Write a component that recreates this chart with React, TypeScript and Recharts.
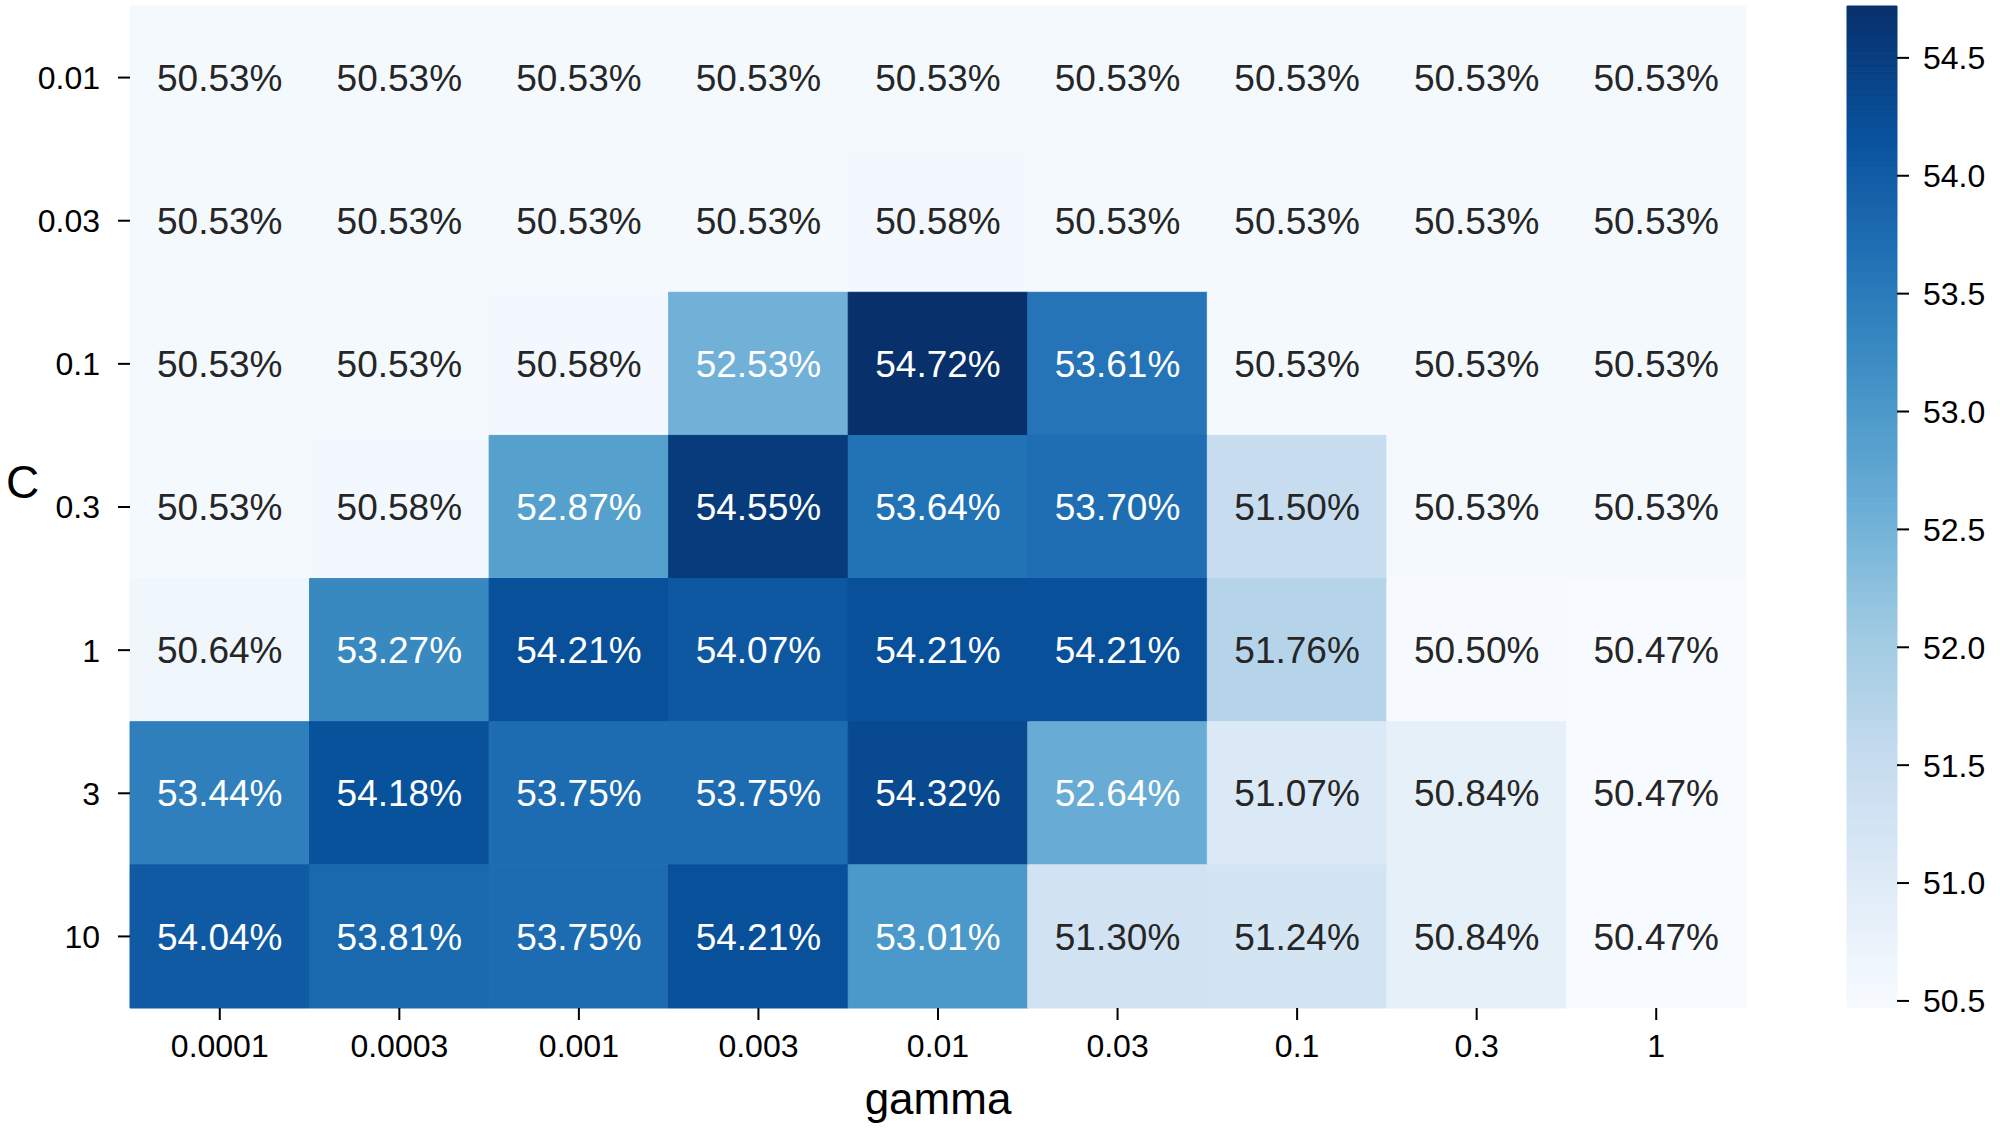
import React from 'react';
import { ComposedChart, XAxis, YAxis, ReferenceArea } from 'recharts';

const gammaLabels = ['0.0001', '0.0003', '0.001', '0.003', '0.01', '0.03', '0.1', '0.3', '1'];
const cLabels = ['0.01', '0.03', '0.1', '0.3', '1', '3', '10'];

const rowC001 = [50.53, 50.53, 50.53, 50.53, 50.53, 50.53, 50.53, 50.53, 50.53];
const rowC003 = [50.53, 50.53, 50.53, 50.53, 50.58, 50.53, 50.53, 50.53, 50.53];
const rowC01 = [50.53, 50.53, 50.58, 52.53, 54.72, 53.61, 50.53, 50.53, 50.53];
const rowC03 = [50.53, 50.58, 52.87, 54.55, 53.64, 53.7, 51.5, 50.53, 50.53];
const rowC1 = [50.64, 53.27, 54.21, 54.07, 54.21, 54.21, 51.76, 50.5, 50.47];
const rowC3 = [53.44, 54.18, 53.75, 53.75, 54.32, 52.64, 51.07, 50.84, 50.47];
const rowC10 = [54.04, 53.81, 53.75, 54.21, 53.01, 51.3, 51.24, 50.84, 50.47];
const rows = [rowC001, rowC003, rowC01, rowC03, rowC1, rowC3, rowC10];

const colorbarTicks = [50.5, 51.0, 51.5, 52.0, 52.5, 53.0, 53.5, 54.0, 54.5];

const BLUES = ['#f7fbff', '#deebf7', '#c6dbef', '#9ecae1', '#6baed6', '#4292c6', '#2171b5', '#08519c', '#08306b'];

const allVals = rows.flat();
const vmin = Math.min(...allVals);
const vmax = Math.max(...allVals);

const hexToRgb = (h: string) => [parseInt(h.slice(1, 3), 16), parseInt(h.slice(3, 5), 16), parseInt(h.slice(5, 7), 16)];

function bluesRgb(t: number) {
  const tt = Math.max(0, Math.min(1, t));
  const pos = tt * (BLUES.length - 1);
  const i = Math.min(BLUES.length - 2, Math.floor(pos));
  const f = pos - i;
  const a = hexToRgb(BLUES[i]);
  const b = hexToRgb(BLUES[i + 1]);
  return a.map((v, k) => Math.round(v + (b[k] - v) * f));
}

function rgbStr(c: number[]) {
  return `rgb(${c[0]},${c[1]},${c[2]})`;
}

function luminance(c: number[]) {
  const lin = c.map((v) => {
    const s = v / 255;
    return s <= 0.03928 ? s / 12.92 : Math.pow((s + 0.055) / 1.055, 2.4);
  });
  return 0.2126 * lin[0] + 0.7152 * lin[1] + 0.0722 * lin[2];
}

type Cell = { col: number; row: number; value: number; fill: string; text: string };
const cells: Cell[] = [];
rows.forEach((r, ri) =>
  r.forEach((v, ci) => {
    const rgb = bluesRgb((v - vmin) / (vmax - vmin));
    cells.push({
      col: ci,
      row: ri,
      value: v,
      fill: rgbStr(rgb),
      text: luminance(rgb) > 0.408 ? '#262626' : '#ffffff',
    });
  })
);

// colorbar slices (colormap sampled across the value range)
const N_SLICES = 200;
const slices = Array.from({ length: N_SLICES }, (_, i) => {
  const y1 = vmin + ((vmax - vmin) * i) / N_SLICES;
  const y2 = vmin + ((vmax - vmin) * (i + 1)) / N_SLICES;
  return { y1, y2, fill: rgbStr(bluesRgb((i + 0.5) / N_SLICES)) };
});

const FONT = '"Liberation Sans", Arial, sans-serif';
const xTicks = gammaLabels.map((_, i) => i + 0.5);
const yTicks = cLabels.map((_, i) => i + 0.5);

export default function App() {
  return (
    <div style={{ position: 'absolute', left: 0, top: 0, width: 2000, height: 1132, background: '#fff', fontFamily: FONT }}>
      <div style={{ position: 'absolute', left: 0, top: 0 }}>
        <ComposedChart width={1760} height={1132} margin={{ top: 6, right: 14, bottom: 14, left: 0 }}>
          <XAxis
            type="number"
            dataKey="x"
            domain={[0, 9]}
            ticks={xTicks}
            tickFormatter={(v: number) => gammaLabels[Math.floor(v)]}
            axisLine={false}
            tickSize={12}
            tickMargin={14}
            tickLine={{ stroke: '#000', strokeWidth: 2 }}
            tick={{ fill: '#000', fontSize: 32, fontFamily: FONT }}
            height={110}
            interval={0}
            allowDataOverflow
            label={{ value: 'gamma', position: 'insideBottom', offset: 4, fill: '#000', fontSize: 44, fontFamily: FONT }}
          />
          <YAxis
            type="number"
            dataKey="y"
            domain={[0, 7]}
            reversed
            ticks={yTicks}
            tickFormatter={(v: number) => cLabels[Math.floor(v)]}
            axisLine={false}
            tickSize={12}
            tickMargin={18}
            tickLine={{ stroke: '#000', strokeWidth: 2 }}
            tick={{ fill: '#000', fontSize: 32, fontFamily: FONT }}
            width={130}
            interval={0}
            allowDataOverflow
            label={{
              content: (props: any) => {
                const vb = props.viewBox || { x: 0, y: 0, height: 0 };
                return (
                  <text x={vb.x + 6} y={vb.y + vb.height / 2 - 25} fill="#000" fontSize={46} fontFamily={FONT} dominantBaseline="central">
                    C
                  </text>
                );
              },
            }}
          />
          {cells.map((c) => (
            <ReferenceArea
              key={`${c.row}-${c.col}`}
              x1={c.col}
              x2={c.col + 1}
              y1={c.row}
              y2={c.row + 1}
              fill={c.fill}
              fillOpacity={1}
              stroke={c.fill}
              strokeWidth={1}
              ifOverflow="visible"
              label={{ value: `${c.value.toFixed(2)}%`, position: 'center', fill: c.text, fontSize: 37, fontFamily: FONT }}
            />
          ))}
        </ComposedChart>
      </div>
      <div style={{ position: 'absolute', left: 1800, top: 0 }}>
        <ComposedChart width={200} height={1132} margin={{ top: 6, right: 0, bottom: 124, left: 47 }}>
          <XAxis type="number" dataKey="x" domain={[0, 1]} allowDataOverflow hide />
          <YAxis
            type="number"
            dataKey="y"
            orientation="right"
            domain={[vmin, vmax]}
            ticks={colorbarTicks}
            tickFormatter={(v: number) => v.toFixed(1)}
            axisLine={false}
            tickSize={12}
            tickMargin={14}
            tickLine={{ stroke: '#000', strokeWidth: 2 }}
            tick={{ fill: '#000', fontSize: 32, fontFamily: FONT }}
            width={103}
            interval={0}
            allowDataOverflow
          />
          {slices.map((s, i) => (
            <ReferenceArea
              key={i}
              x1={0}
              x2={1}
              y1={s.y1}
              y2={s.y2}
              fill={s.fill}
              fillOpacity={1}
              stroke={s.fill}
              strokeWidth={1}
              ifOverflow="visible"
            />
          ))}
        </ComposedChart>
      </div>
    </div>
  );
}
